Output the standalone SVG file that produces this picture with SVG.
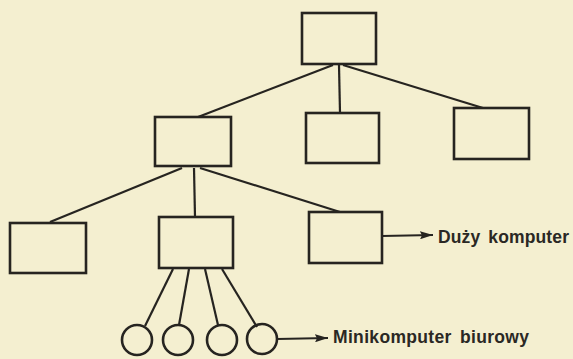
<svg xmlns="http://www.w3.org/2000/svg" width="573" height="359" viewBox="0 0 573 359">
<style>
.box{fill:none;stroke:#262420;stroke-width:2.6}
.ln{fill:none;stroke:#262420;stroke-width:2.2}
.lbl{font-family:"Liberation Sans",Arial,sans-serif;font-weight:bold;font-size:17.5px;fill:#2a2824;word-spacing:3px}
</style>
<defs>
<marker id="ah" viewBox="0 0 13 8" refX="13" refY="4" markerWidth="13" markerHeight="8" markerUnits="userSpaceOnUse" orient="auto">
<path d="M0,0 L13,4 L0,8 L2,4 Z" fill="#262420"/>
</marker>
</defs>
<rect width="573" height="359" fill="#f4efd0"/>
<g id="connectors">
<line class="ln" x1="333" y1="65" x2="198" y2="117"/>
<line class="ln" x1="339" y1="65" x2="340" y2="113"/>
<line class="ln" x1="343" y1="65" x2="483" y2="108"/>
<line class="ln" x1="182" y1="168" x2="50" y2="222"/>
<line class="ln" x1="194" y1="168" x2="195" y2="217"/>
<line class="ln" x1="200" y1="168" x2="340" y2="212"/>
<line class="ln" x1="173" y1="269" x2="145" y2="326"/>
<line class="ln" x1="189" y1="269" x2="179" y2="325"/>
<line class="ln" x1="205" y1="269" x2="218" y2="325"/>
<line class="ln" x1="222" y1="269" x2="257" y2="327"/>
<line class="ln" x1="382" y1="236" x2="433" y2="235" marker-end="url(#ah)"/>
<line class="ln" x1="277" y1="339" x2="328" y2="338" marker-end="url(#ah)"/>
</g>
<g id="n-top"><rect class="box" x="302" y="13" width="74" height="51"/></g>
<g id="n-mid1"><rect class="box" x="155" y="117" width="76" height="49"/></g>
<g id="n-mid2"><rect class="box" x="306" y="113" width="73" height="50"/></g>
<g id="n-mid3"><rect class="box" x="454" y="108" width="75" height="51"/></g>
<g id="n-bot1"><rect class="box" x="10" y="223" width="76" height="50"/></g>
<g id="n-bot2"><rect class="box" x="159" y="217" width="74" height="51"/></g>
<g id="n-bot3"><rect class="box" x="309" y="212" width="73" height="51"/></g>
<g id="c1"><circle class="box" cx="137" cy="340" r="15"/></g>
<g id="c2"><circle class="box" cx="178" cy="340" r="15"/></g>
<g id="c3"><circle class="box" cx="222" cy="340" r="15"/></g>
<g id="c4"><circle class="box" cx="262" cy="339" r="15"/></g>
<g id="lbl-duzy"><text class="lbl" x="438" y="243" textLength="131" lengthAdjust="spacing">Duży komputer</text></g>
<g id="lbl-mini"><text class="lbl" x="333" y="343" textLength="196" lengthAdjust="spacing">Minikomputer biurowy</text></g>
</svg>
